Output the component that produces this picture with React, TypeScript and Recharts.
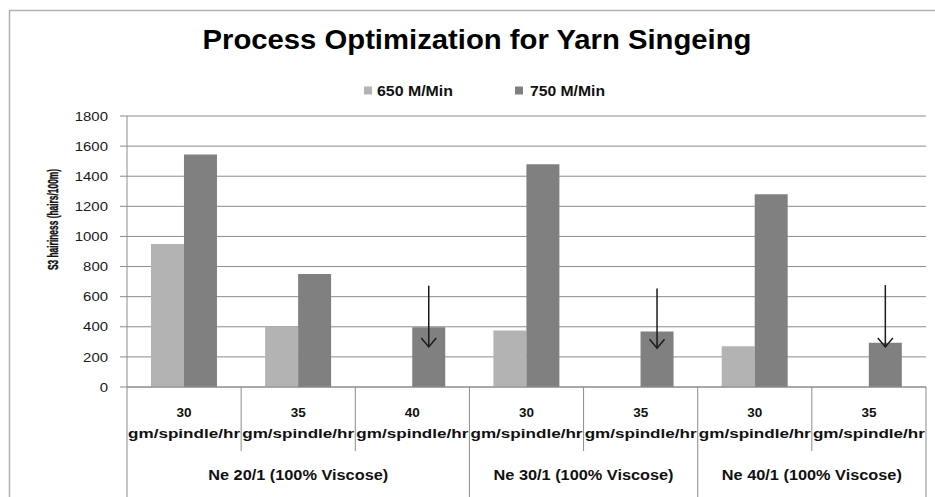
import { BarChart, Bar, XAxis, YAxis, CartesianGrid, LabelList } from 'recharts';

const groupNames = ['Ne 20/1 (100% Viscose)', 'Ne 30/1 (100% Viscose)', 'Ne 40/1 (100% Viscose)'];
const groupOf = [0, 0, 0, 1, 1, 2, 2];
const feedRates = ['30', '35', '40', '30', '35', '30', '35'];
const feedUnit = 'gm/spindle/hr';
const speed650 = [950, 400, null, 375, null, 270, null];
const speed750 = [1545, 750, 397, 1480, 368, 1280, 294];
// arrows drawn over the 750 bars (start value -> tip value)
const arrowFrom = [null, null, 672, null, 655, null, 677];
const arrowTo = [null, null, 266, null, 258, null, 266];
const yTicks = [0, 200, 400, 600, 800, 1000, 1200, 1400, 1600, 1800];
const seriesNames = ['650 M/Min', '750 M/Min'];

const data = feedRates.map((rate, i) => ({
  key: `${groupOf[i]}-${rate}-${i}`,
  rate,
  s650: speed650[i],
  s750: speed750[i],
  arrowFrom: arrowFrom[i],
  arrowTo: arrowTo[i],
}));

const W = 935;
const H = 497;
const PLOT_LEFT = 127;
const PLOT_RIGHT = 926;
const AXIS_Y = 387;
const BAND = (PLOT_RIGHT - PLOT_LEFT) / feedRates.length;
const FONT = '"Liberation Sans", Arial, sans-serif';
const LINE = '#8c8c8c';
const LIGHT = '#b3b3b3';
const DARK = '#808080';

const YTick = ({ x, y, payload }: any) => (
  <text
    transform={`translate(${x},${y}) scale(1.15,1)`}
    textAnchor="end"
    dy="0.36em"
    fontFamily={FONT}
    fontSize={13}
    fill="#1a1a1a"
  >
    {payload.value}
  </text>
);

const XTick = ({ x, payload }: any) => {
  const i = payload.index;
  const left = x - BAND / 2;
  const groupStart = i === 0 || groupOf[i] !== groupOf[i - 1];
  const isLast = i === feedRates.length - 1;
  const span = groupOf.filter((g) => g === groupOf[i]).length;
  return (
    <g>
      <line x1={left} x2={left} y1={AXIS_Y} y2={groupStart ? H : 451} stroke={LINE} />
      {isLast && <line x1={left + BAND} x2={left + BAND} y1={AXIS_Y} y2={H} stroke={LINE} />}
      <text x={x} y={417} textAnchor="middle" fontFamily={FONT} fontWeight="bold" fontSize={13.5} fill="#111">
        {feedRates[i]}
      </text>
      <text
        x={x}
        y={438}
        textAnchor="middle"
        fontFamily={FONT}
        fontWeight="bold"
        fontSize={13.5}
        fill="#111"
        textLength={112}
        lengthAdjust="spacingAndGlyphs"
      >
        {feedUnit}
      </text>
      {groupStart && (
        <text
          x={left + (span * BAND) / 2}
          y={480}
          textAnchor="middle"
          fontFamily={FONT}
          fontWeight="bold"
          fontSize={14}
          fill="#111"
          textLength={180}
          lengthAdjust="spacingAndGlyphs"
        >
          {groupNames[groupOf[i]]}
        </text>
      )}
    </g>
  );
};

const Arrow = (props: any) => {
  const { index } = props;
  const vb = props.viewBox || props;
  const from = arrowFrom[index];
  const to = arrowTo[index];
  const val = speed750[index];
  if (from == null || to == null || !val) return null;
  const perUnit = vb.height / val;
  const base = vb.y + vb.height;
  const cx = vb.x + vb.width / 2;
  const y1 = base - from * perUnit;
  const y2 = base - to * perUnit;
  return (
    <g stroke="#1a1a1a" strokeWidth={1.5} fill="none">
      <line x1={cx} x2={cx} y1={y1} y2={y2} />
      <polyline points={`${cx - 7.5},${y2 - 9} ${cx},${y2} ${cx + 7.5},${y2 - 9}`} />
    </g>
  );
};

export default function App() {
  return (
    <div style={{ position: 'absolute', left: 0, top: 0, width: W, height: H, background: '#fff' }}>
      <BarChart
        width={W}
        height={H}
        data={data}
        margin={{ top: 116, right: W - PLOT_RIGHT, left: 0, bottom: 0 }}
        barCategoryGap="21%"
        barGap={0}
      >
        <CartesianGrid horizontal vertical={false} stroke={LINE} strokeDasharray="" />
        <XAxis
          dataKey="key"
          height={H - AXIS_Y}
          tickSize={0}
          tickMargin={0}
          tickLine={false}
          axisLine={{ stroke: LINE }}
          interval={0}
          tick={<XTick />}
        />
        <YAxis
          width={PLOT_LEFT}
          domain={[0, 1800]}
          ticks={yTicks}
          interval={0}
          tickSize={7}
          tickMargin={12}
          tickLine={{ stroke: LINE }}
          axisLine={{ stroke: LINE }}
          tick={<YTick />}
        />
        <Bar dataKey="s650" name={seriesNames[0]} fill={LIGHT} isAnimationActive={false} />
        <Bar dataKey="s750" name={seriesNames[1]} fill={DARK} isAnimationActive={false}>
          <LabelList dataKey="arrowFrom" content={<Arrow />} />
        </Bar>
      </BarChart>
      <svg
        width={W}
        height={H}
        style={{ position: 'absolute', left: 0, top: 0, pointerEvents: 'none' }}
      >
        <rect x={9.5} y={10.5} width={W} height={H + 20} fill="none" stroke="#b0b0b0" strokeWidth={1.5} />
        <text
          x={477}
          y={49}
          textAnchor="middle"
          fontFamily={FONT}
          fontWeight="bold"
          fontSize={28}
          fill="#000"
          textLength={549}
          lengthAdjust="spacingAndGlyphs"
        >
          Process Optimization for Yarn Singeing
        </text>
        <rect x={364} y={86.5} width={8} height={8} fill={LIGHT} />
        <text x={377} y={96} fontFamily={FONT} fontWeight="bold" fontSize={14.5} fill="#111" textLength={76} lengthAdjust="spacingAndGlyphs">
          {seriesNames[0]}
        </text>
        <rect x={515} y={86.5} width={8} height={8} fill={DARK} />
        <text x={530} y={96} fontFamily={FONT} fontWeight="bold" fontSize={14.5} fill="#111" textLength={75} lengthAdjust="spacingAndGlyphs">
          {seriesNames[1]}
        </text>
        <text
          transform="translate(58,219.5) rotate(-90) scale(0.6,1)"
          textAnchor="middle"
          fontFamily={FONT}
          fontWeight="bold"
          fontSize={14}
          fill="#111"
          stroke="#111"
          strokeWidth={0.4}
        >
          S3 hairiness (hairs/100m)
        </text>
      </svg>
    </div>
  );
}
